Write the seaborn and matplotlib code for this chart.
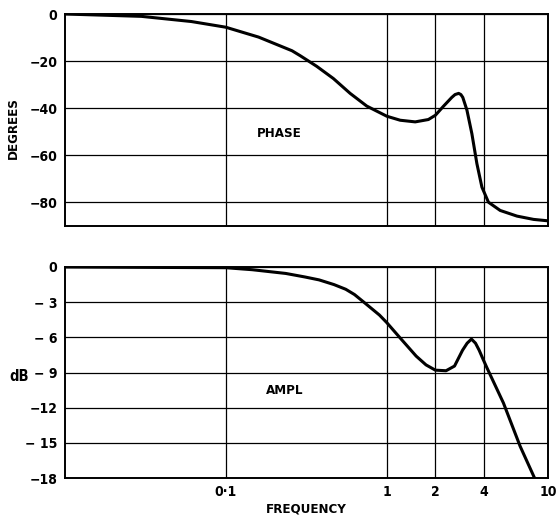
import matplotlib
matplotlib.use("Agg")
import matplotlib.pyplot as plt
import seaborn as sns
import pandas as pd
from matplotlib.ticker import FixedLocator, NullLocator

# ---- data ----
phase_freq = [0.01, 0.03, 0.0613, 0.1, 0.16, 0.258, 0.29, 0.367, 0.466, 0.592,
              0.751, 1.0, 1.21, 1.5, 1.81, 2.0, 2.25, 2.53, 2.65, 2.79, 2.88,
              2.96, 3.14, 3.37, 3.62, 3.89, 4.27, 5.05, 6.42, 8.14, 10.0]
phase_deg = [0, -1.0, -3.2, -5.6, -9.8, -15.6, -17.7, -22.2, -27.4, -33.7,
             -39.1, -43.4, -45.1, -45.8, -44.8, -43, -39.1, -35.4, -34.2, -33.7, -34.2,
             -35.4, -40.8, -50.8, -63.5, -73.5, -79.9, -83.4, -85.8, -87.2, -87.8]

amp_freq = [0.01, 0.1, 0.146, 0.236, 0.31, 0.38, 0.47, 0.556, 0.63, 0.72, 0.9,
            1.0, 1.2, 1.52, 1.75, 2.0, 2.33, 2.63, 2.95, 3.15, 3.35, 3.55, 3.74,
            3.95, 4.17, 5.29, 6.72, 8.25]
amp_db = [0, -0.06, -0.23, -0.55, -0.85, -1.1, -1.5, -1.9, -2.35, -3.0, -4.1,
          -4.75, -6.0, -7.6, -8.35, -8.8, -8.85, -8.45, -7.1, -6.5, -6.15, -6.5, -7.1,
          -7.85, -8.57, -11.6, -15.3, -18.0]

x_ticks = [0.1, 1, 2, 4, 10]
x_tick_labels = ["0·1", "1", "2", "4", "10"]
phase_ticks = [0, -20, -40, -60, -80]
phase_tick_labels = ["0", "−20", "−40", "−60", "−80"]
amp_ticks = [0, -3, -6, -9, -12, -15, -18]
amp_tick_labels = ["0", "− 3", "− 6", "− 9", "−12", "− 15", "−18"]

phase_df = pd.DataFrame({"freq": phase_freq, "deg": phase_deg})
amp_df = pd.DataFrame({"freq": amp_freq, "db": amp_db})

sns.set_style("white")
plt.rcParams["font.family"] = ["DejaVu Sans"]
plt.rcParams["text.color"] = "black"
plt.rcParams["xtick.color"] = "black"
plt.rcParams["ytick.color"] = "black"
plt.rcParams["axes.labelcolor"] = "black"

fig = plt.figure(figsize=(5.57, 5.16), dpi=100)
W, H = 557, 516
left, right = 64.5, 548
ax1 = fig.add_axes([left / W, 1 - 226 / H, (right - left) / W, 212 / H])
ax2 = fig.add_axes([left / W, 1 - 478 / H, (right - left) / W, 211 / H])

sns.lineplot(data=phase_df, x="freq", y="deg", ax=ax1, color="black",
             linewidth=2.2, sort=False, estimator=None)
sns.lineplot(data=amp_df, x="freq", y="db", ax=ax2, color="black",
             linewidth=2.2, sort=False, estimator=None)

tick_font = dict(fontsize=10, fontweight="bold", fontstretch="condensed")
for ax in (ax1, ax2):
    ax.set_xscale("log")
    ax.set_xlim(0.01, 10)
    ax.xaxis.set_major_locator(FixedLocator(x_ticks))
    ax.xaxis.set_minor_locator(NullLocator())
    ax.grid(True, which="major", color="black", linewidth=0.9)
    for s in ax.spines.values():
        s.set_color("black")
        s.set_linewidth(1.4)
    ax.tick_params(length=0, pad=5)
    ax.set_xlabel("")
    ax.set_ylabel("")

ax1.set_ylim(-90, 0)
ax1.set_yticks(phase_ticks)
ax1.set_yticklabels(phase_tick_labels, **tick_font)
ax1.set_xticklabels([])
ax1.set_ylabel("DEGREES", fontsize=9.5, fontweight="bold", fontstretch="condensed")
ax1.yaxis.set_label_coords(-0.093, 0.46)
ax1.text(0.215, -50.6, "PHASE", fontsize=9.5, fontweight="bold",
         fontstretch="condensed", ha="center", va="center")

ax2.set_ylim(-18, 0)
ax2.set_yticks(amp_ticks)
ax2.set_yticklabels(amp_tick_labels, **tick_font)
ax2.set_xticklabels(x_tick_labels, **tick_font)
ax2.tick_params(axis="x", pad=5)
ax2.set_xlabel("FREQUENCY", fontsize=9.5, fontweight="bold", fontstretch="condensed")
ax2.xaxis.set_label_coords(0.5, -0.117)
ax2.text(0.231, -10.5, "AMPL", fontsize=9.5, fontweight="bold",
         fontstretch="condensed", ha="center", va="center")
ax2.text(-0.093, 0.48, "dB", transform=ax2.transAxes, fontsize=10.5,
         fontweight="bold", fontstretch="condensed", ha="center", va="center")

fig.savefig("out.png", dpi=100, facecolor="white")
